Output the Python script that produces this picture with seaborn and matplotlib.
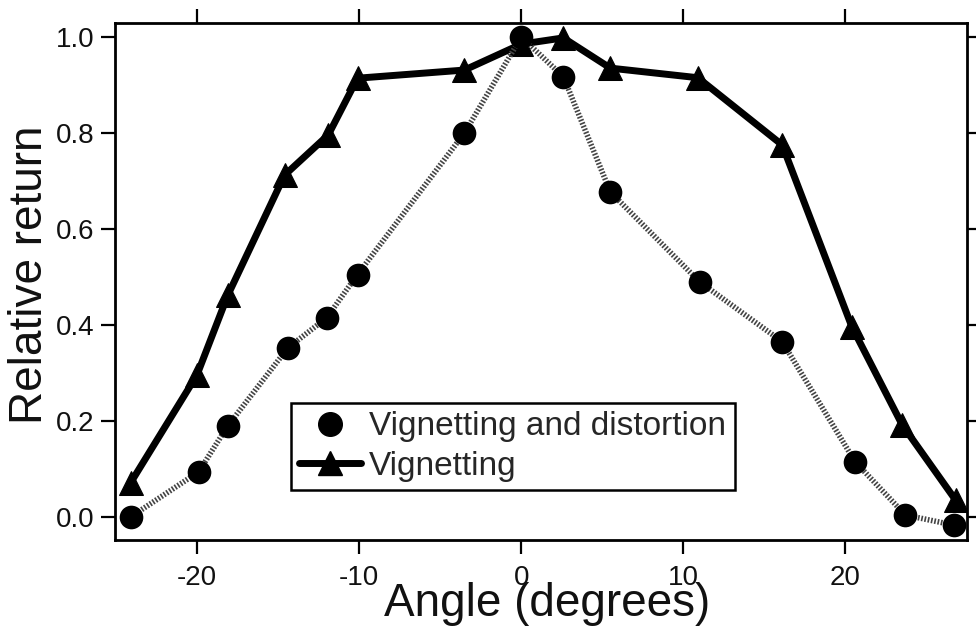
import matplotlib
matplotlib.use("Agg")
import matplotlib.pyplot as plt
from matplotlib.lines import Line2D
import seaborn as sns
import pandas as pd

# Data
vig_angle = [-24.1, -20.0, -18.1, -14.6, -11.9, -10.1, -3.5, 0.0, 2.6, 5.5, 10.9, 16.1, 20.4, 23.5, 26.8]
vig_return = [0.071, 0.296, 0.462, 0.712, 0.796, 0.914, 0.931, 0.985, 0.998, 0.935, 0.915, 0.775, 0.396, 0.192, 0.035]

vd_angle = [-24.1, -19.9, -18.1, -14.4, -12.0, -10.1, -3.5, 0.0, 2.6, 5.5, 11.0, 16.1, 20.6, 23.7, 26.7]
vd_return = [0.0, 0.094, 0.19, 0.352, 0.415, 0.505, 0.80, 1.0, 0.917, 0.677, 0.49, 0.365, 0.115, 0.004, -0.017]

x_ticks = [-20, -10, 0, 10, 20]
y_ticks = [0.0, 0.2, 0.4, 0.6, 0.8, 1.0]
y_ticklabels = ["0.0", "0.2", "0.4", "0.6", "0.8", "1.0"]
legend_labels = ["Vignetting and distortion", "Vignetting"]

sns.set_theme(style="ticks")
plt.rcParams["font.family"] = ["Liberation Sans", "DejaVu Sans"]

fig = plt.figure(figsize=(9.76, 6.26), dpi=100)
ax = fig.add_axes([115 / 976, 86 / 626, 852 / 976, 517 / 626])

df_v = pd.DataFrame({"angle": vig_angle, "ret": vig_return})
df_vd = pd.DataFrame({"angle": vd_angle, "ret": vd_return})

sns.lineplot(data=df_v, x="angle", y="ret", ax=ax, sort=False, color="black",
             linewidth=5, marker="^", markersize=17, markeredgecolor="black",
             markerfacecolor="black", zorder=2)
sns.lineplot(data=df_vd, x="angle", y="ret", ax=ax, sort=False, color="#444444",
             linewidth=4, linestyle=(0, (0.3, 0.3)), zorder=3)
sns.scatterplot(data=df_vd, x="angle", y="ret", ax=ax, color="black", s=290,
                edgecolor="black", linewidth=0, zorder=4)

ax.set_xlim(-25.06, 27.5)
ax.set_ylim(-0.048, 1.029)
ax.set_xticks(x_ticks)
ax.set_xticklabels([str(t) for t in x_ticks])
ax.set_yticks(y_ticks)
ax.set_yticklabels(y_ticklabels)

for s in ax.spines.values():
    s.set_visible(True)
    s.set_linewidth(2.0)
    s.set_color("black")

ax.tick_params(axis="both", which="both", direction="out", length=10, width=1.6,
               color="black", top=True, right=True, labeltop=False, labelright=False,
               labelsize=20, labelcolor="#111111")
ax.tick_params(axis="x", pad=8)
ax.tick_params(axis="y", pad=5)

ax.set_xlabel("Angle (degrees)", fontsize=33, color="#111111")
ax.set_ylabel("Relative return", fontsize=33, color="#111111")
ax.xaxis.set_label_coords(0.507, -0.082)
ax.yaxis.set_label_coords(-0.074, 0.513)

handles = [
    Line2D([], [], color="black", marker="o", markersize=17, linestyle="none"),
    Line2D([], [], color="black", marker="^", markersize=17, linewidth=5),
]
leg = ax.legend(handles, legend_labels, loc="upper left",
                bbox_to_anchor=(0.2066, 0.265), fontsize=24, frameon=True,
                fancybox=False, edgecolor="black", framealpha=1,
                handlelength=1.85, handletextpad=0.25, borderpad=0.25,
                labelspacing=0.25, borderaxespad=0)
leg.get_frame().set_linewidth(1.8)

fig.savefig("out.png", dpi=100)
